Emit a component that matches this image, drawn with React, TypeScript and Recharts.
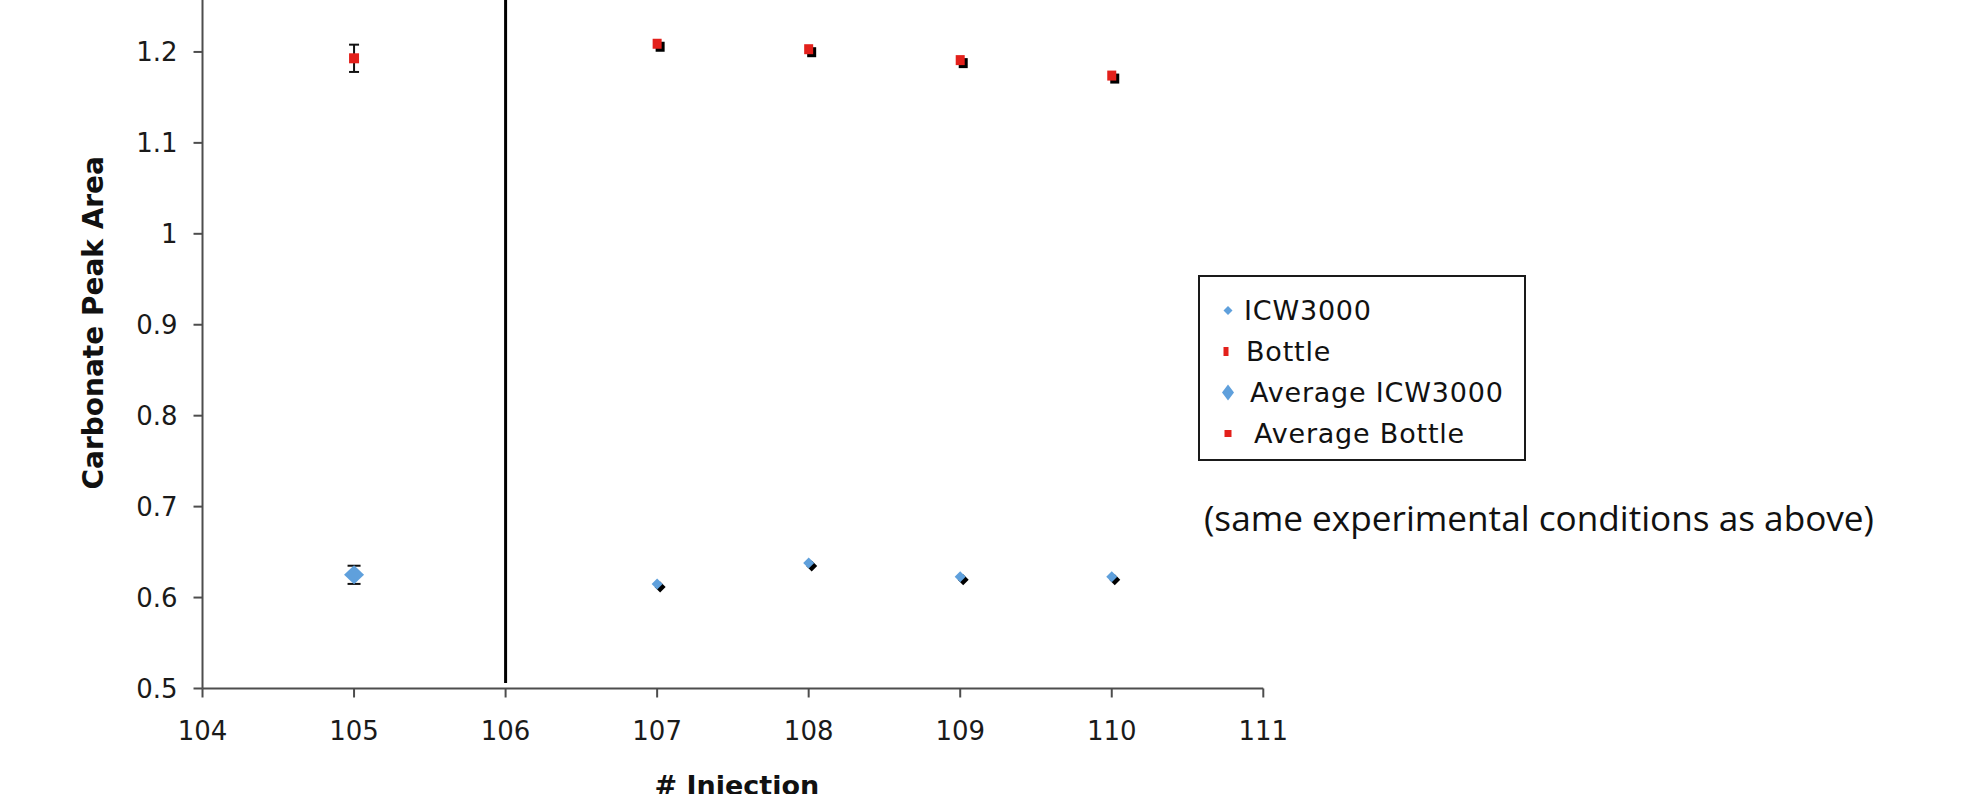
import React from "react";
import {
  ErrorBar,
  Label,
  Legend,
  ReferenceLine,
  Scatter,
  ScatterChart,
  XAxis,
  YAxis,
} from "recharts";

// injections after the divider
const injections = [107, 108, 109, 110];
const icwValues = [0.615, 0.638, 0.623, 0.623];
const bottleValues = [1.209, 1.203, 1.191, 1.174];

// averages (left of the divider)
const avgInjection = [105];
const avgIcwValues = [0.625];
const avgIcwErrors = [0.01];
const avgBottleValues = [1.193];
const avgBottleErrors = [0.015];

const xTicks = [104, 105, 106, 107, 108, 109, 110, 111];
const yTicks = [0.5, 0.6, 0.7, 0.8, 0.9, 1, 1.1, 1.2];
const dividerAt = 106;
const dividerBottom = 0.506;

const seriesNames = ["ICW3000", "Bottle", "Average ICW3000", "Average Bottle"];
const noteText = "(same experimental conditions as above)";

const BLUE = "#5FA0DC";
const RED = "#E3201B";
const FONT = "'DejaVu Sans', Verdana, sans-serif";

const icwData = injections.map((x, i) => ({ x, y: icwValues[i] }));
const bottleData = injections.map((x, i) => ({ x, y: bottleValues[i] }));
const avgIcwData = avgInjection.map((x, i) => ({
  x,
  y: avgIcwValues[i],
  err: avgIcwErrors[i],
}));
const avgBottleData = avgInjection.map((x, i) => ({
  x,
  y: avgBottleValues[i],
  err: avgBottleErrors[i],
}));

const diamond = (cx: number, cy: number, hw: number, hh: number) =>
  `M${cx},${cy - hh} L${cx + hw},${cy} L${cx},${cy + hh} L${cx - hw},${cy} Z`;

const IcwShape = (props: any) => {
  const { cx, cy } = props;
  return (
    <g>
      <path d={diamond(cx + 3, cy + 3, 5.5, 5.5)} fill="#000" />
      <path d={diamond(cx, cy, 5.5, 5.5)} fill={BLUE} />
    </g>
  );
};

const BottleShape = (props: any) => {
  const { cx, cy } = props;
  return (
    <g>
      <rect x={cx - 4.5 + 3} y={cy - 5 + 3} width={9} height={10} fill="#000" />
      <rect x={cx - 4.5} y={cy - 5} width={9} height={10} fill={RED} />
    </g>
  );
};

const AvgIcwShape = (props: any) => {
  const { cx, cy } = props;
  return <path d={diamond(cx, cy, 10, 9.5)} fill={BLUE} />;
};

const AvgBottleShape = (props: any) => {
  const { cx, cy } = props;
  return <rect x={cx - 5} y={cy - 5} width={10} height={10} fill={RED} />;
};

const legendMarkers: Record<string, { indent: number; icon: React.ReactNode }> = {
  ICW3000: { indent: 46, icon: <path d={diamond(30, 20, 4.5, 4.5)} fill={BLUE} /> },
  Bottle: { indent: 48, icon: <rect x={25.5} y={15.5} width={5} height={9} fill={RED} /> },
  "Average ICW3000": { indent: 52, icon: <path d={diamond(30, 20, 6, 8)} fill={BLUE} /> },
  "Average Bottle": { indent: 56, icon: <rect x={26.5} y={16.5} width={7} height={7} fill={RED} /> },
};

const renderLegend = (props: any) => {
  const items: any[] = props.payload ?? [];
  const ordered = seriesNames
    .map((n) => items.find((p) => p.value === n))
    .filter(Boolean);
  return (
    <div
      style={{
        boxSizing: "border-box",
        width: 328,
        height: 186,
        border: "2px solid #1a1a1a",
        background: "#fff",
        paddingTop: 13,
        fontFamily: FONT,
        fontSize: 27,
        letterSpacing: 0.8,
        color: "#111",
      }}
    >
      {ordered.map((entry: any) => {
        const m = legendMarkers[entry.value];
        return (
          <div key={entry.value} style={{ position: "relative", height: 41 }}>
            <svg width={60} height={41} style={{ position: "absolute", left: -2, top: 0 }}>
              <g transform="translate(0,0.5)">{m.icon}</g>
            </svg>
            <span
              style={{
                position: "absolute",
                left: m.indent - 2,
                top: 0,
                lineHeight: "41px",
                whiteSpace: "nowrap",
              }}
            >
              {entry.value}
            </span>
          </div>
        );
      })}
    </div>
  );
};

const renderYLabel = (props: any) => {
  const vb = props.viewBox;
  const cx = 102.5;
  const cy = vb.y + vb.height / 2 - 2;
  return (
    <text
      x={cx}
      y={cy}
      transform={`rotate(-90, ${cx}, ${cy})`}
      textAnchor="middle"
      fontFamily={FONT}
      fontWeight="bold"
      fontSize={28}
      fill="#111"
    >
      Carbonate Peak Area
    </text>
  );
};

const renderXLabel = (props: any) => {
  const vb = props.viewBox;
  return (
    <text
      x={vb.x + vb.width / 2 + 4}
      y={vb.y + 106.5}
      textAnchor="middle"
      fontFamily={FONT}
      fontWeight="bold"
      fontSize={27}
      fill="#111"
    >
      # Injection
    </text>
  );
};

const tickStyle = { fontFamily: FONT, fontSize: 26, fill: "#1a1a1a" };

export default function App() {
  return (
    <div
      style={{
        position: "absolute",
        left: 0,
        top: 0,
        width: 1970,
        height: 794,
        overflow: "hidden",
        background: "#fff",
      }}
    >
      <div style={{ position: "absolute", left: 0, top: -39.2 }}>
        <ScatterChart
          width={1970}
          height={833.2}
          margin={{ top: 0, right: 706.7, bottom: 0, left: 0 }}
        >
          <XAxis
            type="number"
            dataKey="x"
            domain={[104, 111]}
            ticks={xTicks}
            allowDataOverflow
            height={105.7}
            axisLine={{ stroke: "#4d4d4d", strokeWidth: 2 }}
            tickLine={{ stroke: "#4d4d4d", strokeWidth: 2 }}
            tickSize={9}
            tickMargin={24}
            tick={tickStyle}
            interval={0}
          >
            <Label content={renderXLabel} />
          </XAxis>
          <YAxis
            type="number"
            dataKey="y"
            domain={[0.5, 1.3]}
            ticks={yTicks}
            allowDataOverflow
            width={202.5}
            axisLine={{ stroke: "#4d4d4d", strokeWidth: 2 }}
            tickLine={{ stroke: "#4d4d4d", strokeWidth: 2 }}
            tickSize={9}
            tickMargin={16}
            tick={tickStyle}
            interval={0}
          >
            <Label content={renderYLabel} />
          </YAxis>
          <ReferenceLine
            segment={[
              { x: dividerAt, y: dividerBottom },
              { x: dividerAt, y: 1.3 },
            ]}
            stroke="#000"
            strokeWidth={3}
            ifOverflow="visible"
          />
          <Legend
            layout="vertical"
            align="center"
            verticalAlign="middle"
            content={renderLegend}
            wrapperStyle={{ position: "absolute", left: 1198, top: 314.2, width: 328, height: 186 }}
          />
          <Scatter
            name="ICW3000"
            data={icwData}
            shape={IcwShape}
            fill={BLUE}
            isAnimationActive={false}
          />
          <Scatter
            name="Bottle"
            data={bottleData}
            shape={BottleShape}
            fill={RED}
            isAnimationActive={false}
          />
          <Scatter
            name="Average ICW3000"
            data={avgIcwData}
            shape={AvgIcwShape}
            fill={BLUE}
            isAnimationActive={false}
          >
            <ErrorBar dataKey="err" direction="y" width={6.5} stroke="#111" strokeWidth={2} />
          </Scatter>
          <Scatter
            name="Average Bottle"
            data={avgBottleData}
            shape={AvgBottleShape}
            fill={RED}
            isAnimationActive={false}
          >
            <ErrorBar dataKey="err" direction="y" width={5} stroke="#111" strokeWidth={2} />
          </Scatter>
        </ScatterChart>
      </div>
      <svg
        width={1970}
        height={794}
        style={{ position: "absolute", left: 0, top: 0, pointerEvents: "none" }}
      >
        <text
          x={1204}
          y={531}
          fontFamily="'Open Sans', 'Noto Sans', sans-serif"
          fontSize={35}
          fill="#111"
          textLength={670}
          lengthAdjust="spacingAndGlyphs"
        >
          {noteText}
        </text>
      </svg>
    </div>
  );
}
